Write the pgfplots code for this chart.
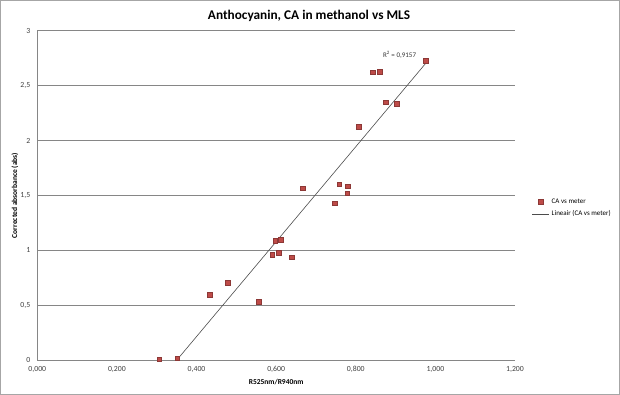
\documentclass[border=0pt]{standalone}
\usepackage{fontspec}
\setmainfont{Carlito}
\usepackage{pgfplots}
\pgfplotsset{compat=1.18}
\definecolor{mk}{HTML}{BE4B48}
\definecolor{mkd}{HTML}{8C3836}
\definecolor{gridc}{HTML}{868686}
\definecolor{framec}{HTML}{A6A6A6}
\begin{document}
\begin{tikzpicture}
\draw[framec, line width=0.8pt] (0.4pt,0.4pt) rectangle (619.6pt,394.6pt);
\node[font=\fontsize{13.3}{15}\selectfont\bfseries] at (309pt,379pt) {Anthocyanin, CA in methanol vs MLS};
\begin{axis}[
  at={(37.3pt,34.7pt)}, anchor=south west,
  scale only axis, width=477.7pt, height=329.6pt,
  xmin=0, xmax=1.2, ymin=0, ymax=3,
  axis x line*=bottom, axis y line*=left,
  axis line style={gridc, line width=0.75pt},
  xtick={0,0.2,0.4,0.6,0.8,1.0,1.2},
  ytick={0,0.5,1,1.5,2,2.5,3},
  ymajorgrids, major grid style={gridc, line width=0.75pt},
  tick style={draw=none},
  xticklabel style={/pgf/number format/.cd, fixed, fixed zerofill, precision=3, use comma, /tikz/.cd, yshift=-2.5pt},
  yticklabel style={/pgf/number format/.cd, fixed, precision=1, use comma, /tikz/.cd, xshift=-3.5pt},
  /pgf/number format/assume math mode=true,
  ticklabel style={font=\fontsize{7.8}{9}\selectfont, text=black!75},
  xlabel={R525nm/R940nm},
  ylabel={Corrected absorbance (abs)},
  label style={font=\fontsize{7.5}{9}\selectfont\bfseries},
  xlabel style={at={(rel axis cs:0.5,-0.065)}, anchor=center},
  ylabel style={at={(rel axis cs:-0.0467,0.5)}, anchor=center},
  legend style={at={(rel axis cs:1.029,0.462)}, anchor=west, draw=none, fill=none,
    font=\fontsize{7}{8}\selectfont, row sep=2pt},
  legend cell align=left,
  clip=false,
]
\addplot[only marks, mark=square*, mark size=2.3pt, mark options={fill=mk, draw=mkd, line width=0.4pt}] coordinates {
(0.306,0.010) (0.351,0.020) (0.433,0.595) (0.479,0.704) (0.556,0.534)
(0.590,0.959) (0.598,1.086) (0.607,0.980) (0.612,1.096) (0.639,0.938)
(0.666,1.567) (0.747,1.430) (0.758,1.603) (0.779,1.585) (0.778,1.521)
(0.808,2.125) (0.842,2.623) (0.860,2.628) (0.875,2.350) (0.903,2.334)
(0.975,2.726)
};
\addlegendentry{CA vs meter}
\addplot[black!70, line width=0.6pt] coordinates {(0.350,0) (0.975,2.700)};
\addlegendentry{Lineair (CA vs meter)}
\node[font=\fontsize{7}{8}\selectfont, text=black!80] at (axis cs:0.91,2.78) {R\textsuperscript{2} = 0,9157};
\end{axis}
\end{tikzpicture}
\end{document}
